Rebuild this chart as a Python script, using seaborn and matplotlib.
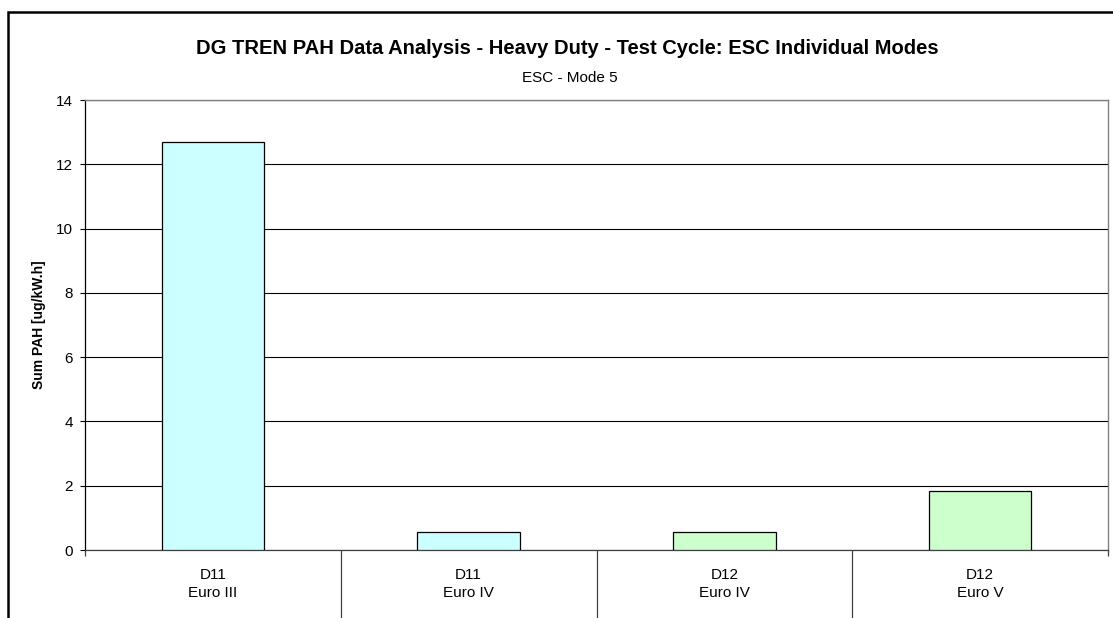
import matplotlib
matplotlib.use("Agg")
import matplotlib.pyplot as plt
import seaborn as sns
import pandas as pd
from matplotlib.patches import Rectangle

# chart data
engines = ["D11", "D11", "D12", "D12"]
stages = ["Euro III", "Euro IV", "Euro IV", "Euro V"]
sum_pah = [12.7, 0.57, 0.56, 1.83]
bar_colors = ["#CCFFFF", "#CCFFFF", "#CCFFCC", "#CCFFCC"]
y_ticks = [0, 2, 4, 6, 8, 10, 12, 14]

title = "DG TREN PAH Data Analysis - Heavy Duty - Test Cycle: ESC Individual Modes"
subtitle = "ESC - Mode 5"
y_label = "Sum PAH [ug/kW.h]"

labels = [f"{e}\n{s}" for e, s in zip(engines, stages)]
df = pd.DataFrame({"label": labels, "value": sum_pah})

sns.set_style("white")
plt.rcParams['font.family'] = ['Liberation Sans', 'DejaVu Sans']
plt.rcParams['text.color'] = 'black'
plt.rcParams['axes.labelcolor'] = 'black'
plt.rcParams['xtick.color'] = 'black'
plt.rcParams['ytick.color'] = 'black'

fig = plt.figure(figsize=(11.13, 6.18), dpi=100)
ax = fig.add_axes([85 / 1113, 1 - 550 / 618, (1108 - 85) / 1113, 450 / 618])

sns.barplot(data=df, x="label", y="value", hue="label", palette=bar_colors,
            saturation=1, width=0.4, edgecolor="black", linewidth=0.9,
            legend=False, ax=ax, zorder=3)

ax.set_xlim(-0.5, len(labels) - 0.5)
ax.set_ylim(0, 14)
ax.set_yticks(y_ticks)
ax.set_xlabel("")
ax.set_ylabel(y_label, fontsize=10, fontweight="bold", labelpad=7)

# horizontal gridlines
ax.yaxis.grid(True, color="black", linewidth=0.8, zorder=0)
ax.set_axisbelow(True)

for side in ["top", "right"]:
    ax.spines[side].set_visible(True)
    ax.spines[side].set_color("#808080")
    ax.spines[side].set_linewidth(1.0)
ax.spines["left"].set_color("black")
ax.spines["bottom"].set_color("#404040")
ax.spines["left"].set_linewidth(0.9)
ax.spines["bottom"].set_linewidth(0.9)

ax.tick_params(axis="y", direction="out", length=3.6, width=0.8, pad=5,
               labelsize=11, left=True, color="black")
ax.tick_params(axis="x", which="major", length=0, labelsize=11, pad=13)
for t in ax.get_xticklabels():
    t.set_linespacing(1.35)

# category separators
seps = [i - 0.5 for i in range(len(labels) + 1)]
ax.set_xticks(seps, minor=True)
ax.tick_params(axis="x", which="minor", direction="out", length=60,
               width=0.9, color="#404040", bottom=True)
minor = ax.xaxis.get_minor_ticks()
minor[0].tick1line.set_markersize(4)
minor[-1].tick1line.set_markersize(4)

# titles
fig.text(567 / 1113, 1 - 54 / 618, title, ha="center", va="baseline",
         fontsize=14.5, fontweight="bold")
fig.text(570 / 1113, 1 - 82.5 / 618, subtitle, ha="center", va="baseline",
         fontsize=11)

# outer chart frame
fig.patches.append(Rectangle((8 / 1113, -0.2), 1.2, 1.2 - 12 / 618,
                             transform=fig.transFigure, fill=False,
                             edgecolor="black", linewidth=1.8))

fig.savefig("out.png", dpi=100)
